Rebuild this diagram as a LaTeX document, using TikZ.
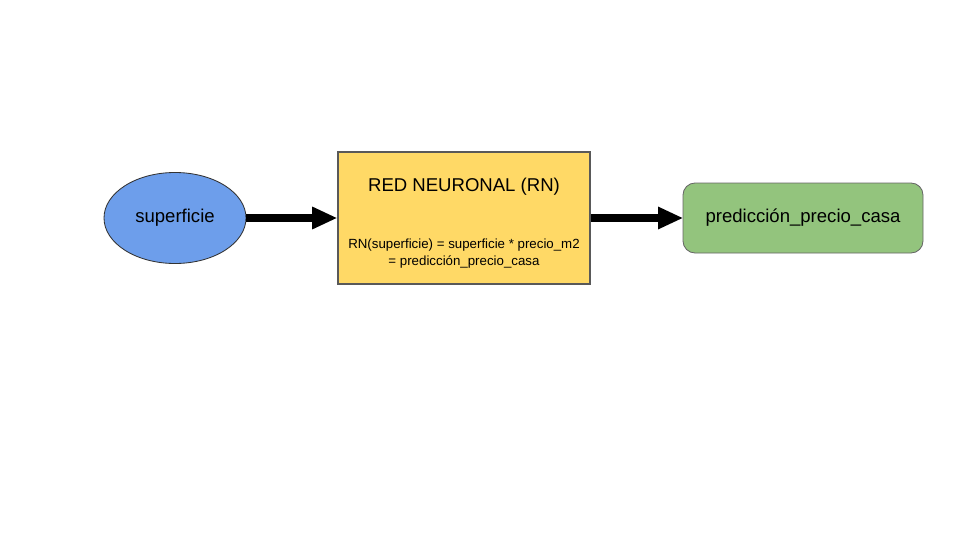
\documentclass[tikz,border=0pt]{standalone}
\usepackage{fontspec}
\setmainfont{Liberation Sans}
\usepackage{xcolor}
\usepackage{tikz}
\usetikzlibrary{arrows.meta,shapes.geometric}
\definecolor{entradaazul}{HTML}{6D9EEB}
\definecolor{redamarillo}{HTML}{FFD966}
\definecolor{salidaverde}{HTML}{93C47D}
\definecolor{bordegris}{HTML}{595959}
\tikzset{>=stealth,
  flecha/.style={line width=6pt,black,-{Triangle[length=0.63cm,width=0.52cm]},shorten >=-0.5pt}}

\begin{document}
\begin{tikzpicture}
     \useasboundingbox[fill=white] (0,0) rectangle (24,13.5);
       \node[ellipse,draw=black!80,line width=0.6pt,fill=entradaazul,minimum width=3.55cm,minimum height=2.275cm,font=\fontsize{13.2}{15}\selectfont] at (4.375, 8.05)   (entrada) {superficie};
       \node[rectangle,draw=bordegris,line width=1.8pt,fill=redamarillo,minimum width=6.3cm,minimum height=3.3cm] at (11.6, 8.05)   (rn) {};
      \node[font=\fontsize{13.2}{15}\selectfont] at (11.6, 8.825)   (titulo) {RED NEURONAL (RN)};
      \node[font=\fontsize{9.45}{12}\selectfont,align=center] at (11.6, 7.16)   (formula) {RN(superficie) = superficie * precio\_m2\\= predicción\_precio\_casa};
       \node[rectangle,rounded corners=0.3cm,draw=black!60,line width=0.6pt,fill=salidaverde,minimum width=6cm,minimum height=1.75cm,font=\fontsize{13.2}{15}\selectfont] at (20.075, 8.05)   (salida) {predicción\_precio\_casa};
     \draw[flecha] (entrada.east)--(rn.west);
     \draw[flecha] (rn.east)--(salida.west);
     \end{tikzpicture}
\end{document}
